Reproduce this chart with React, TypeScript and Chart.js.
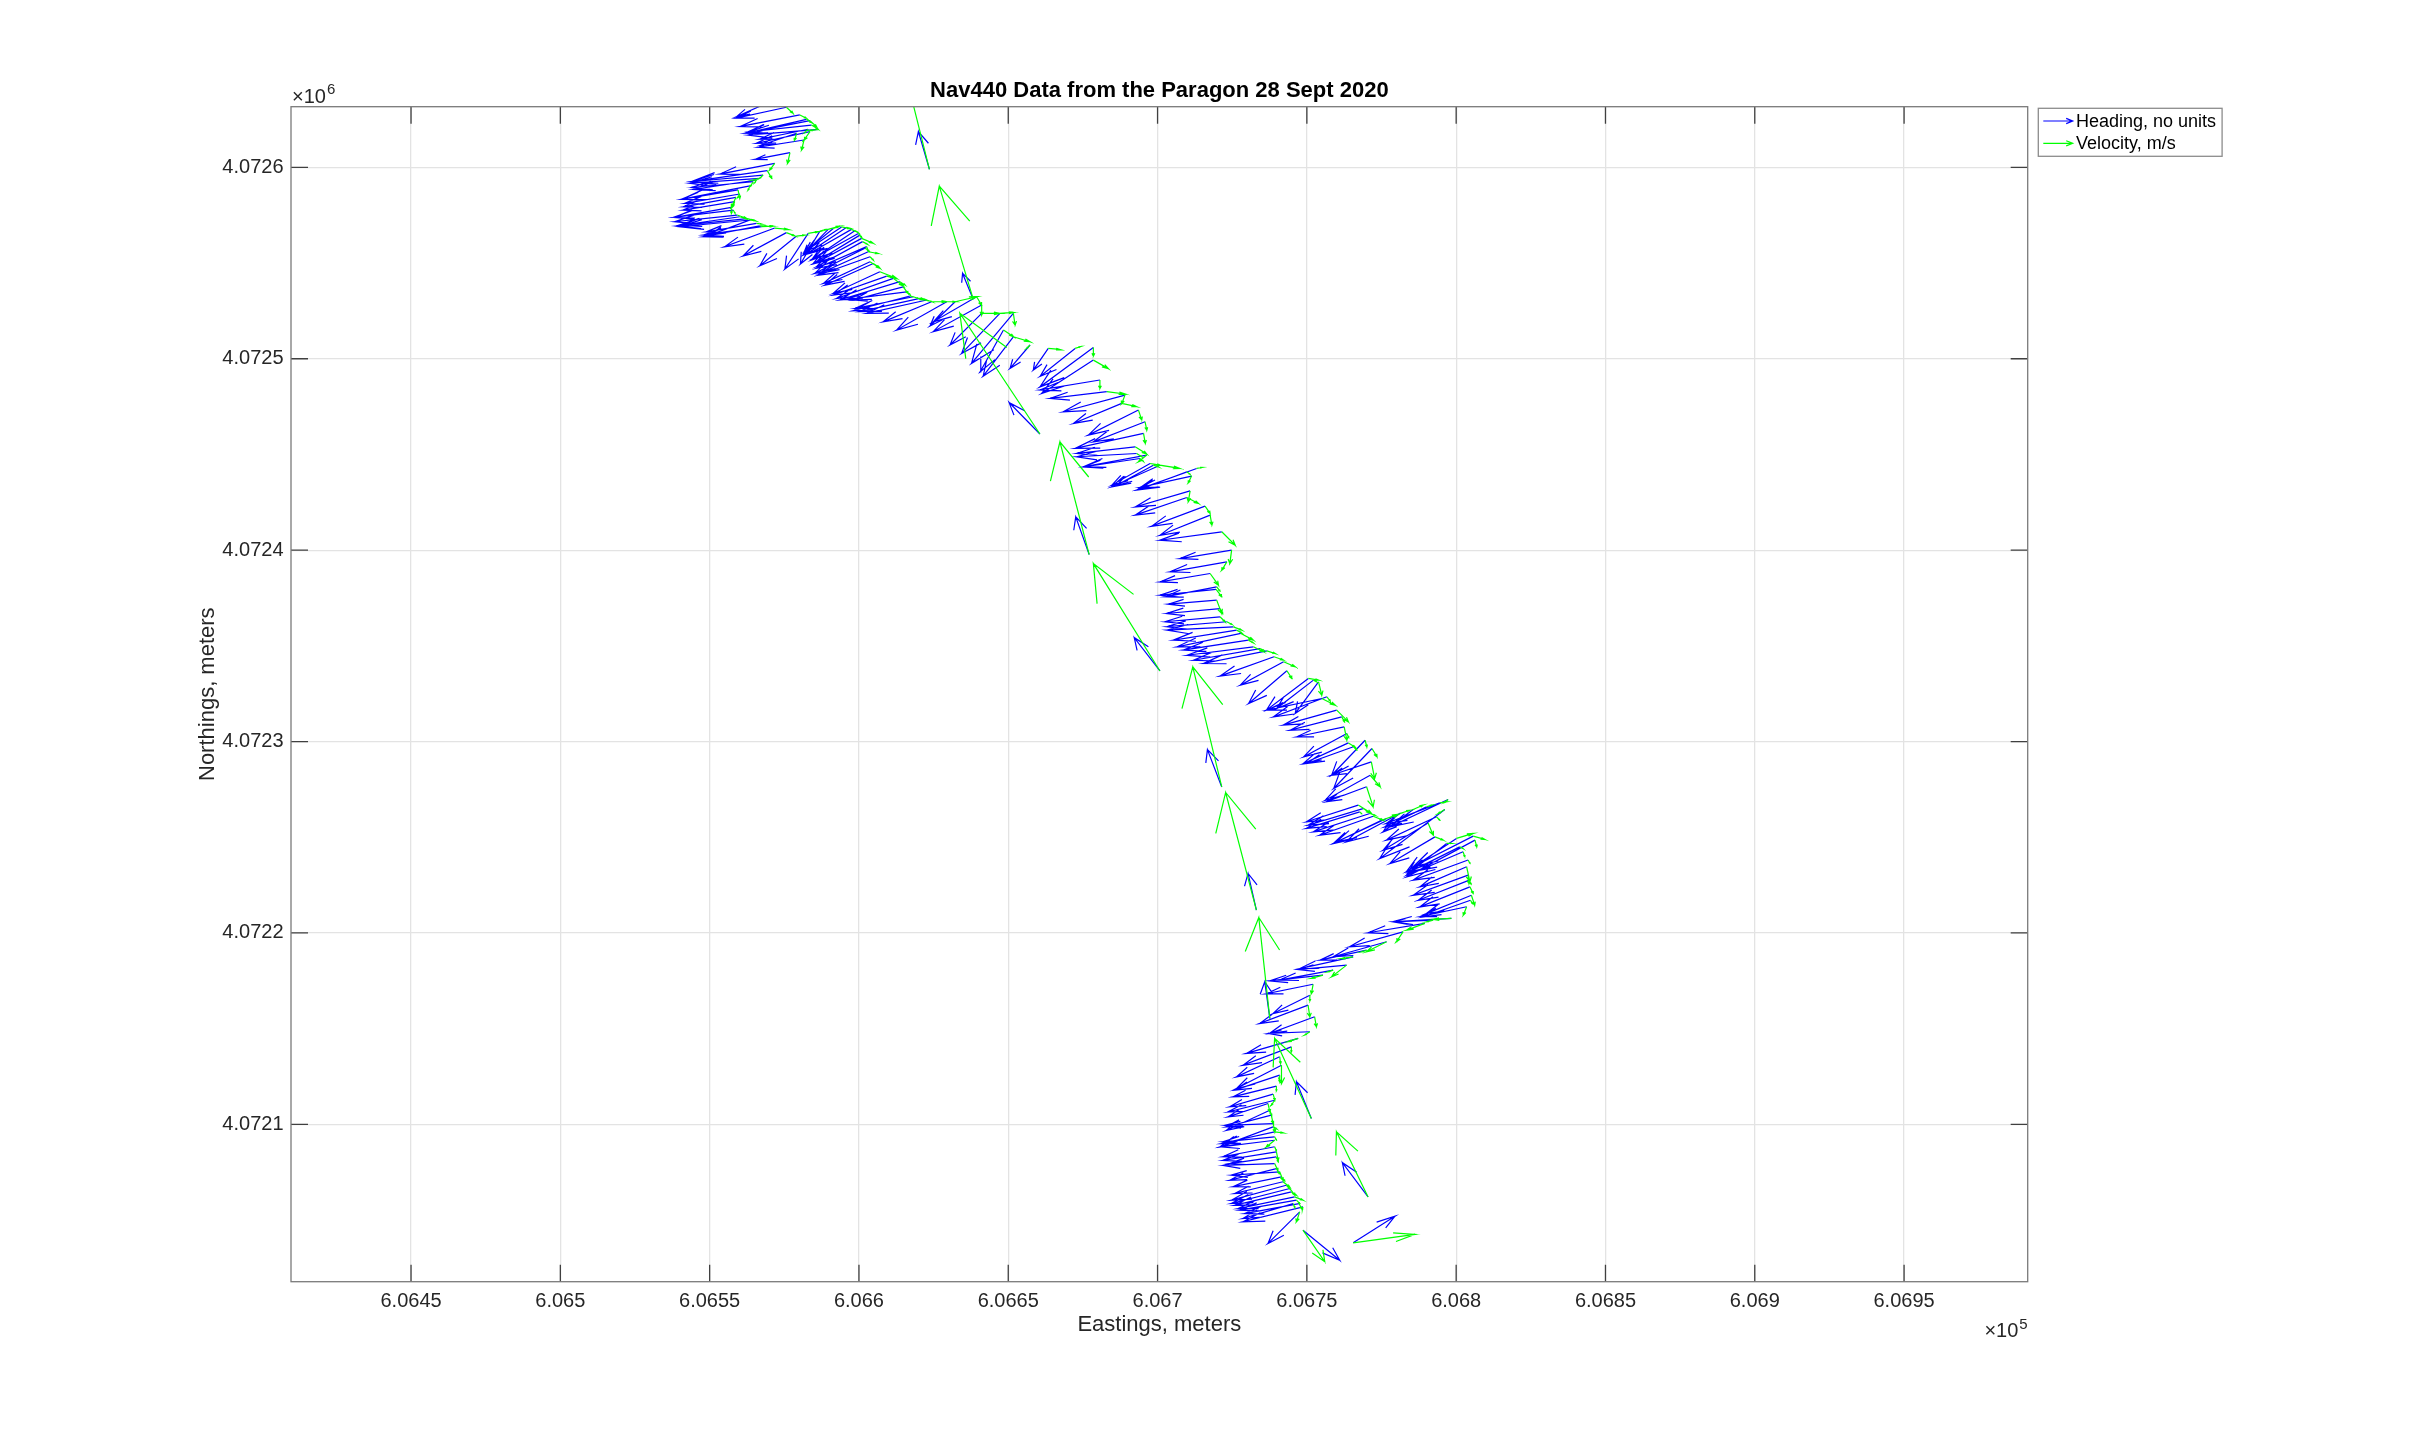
import React, { useEffect, useRef } from "react";
import { Chart, registerables } from "chart.js";

Chart.register(...registerables);

// ---------------- data (meters, UTM) ----------------
const titleText = "Nav440 Data from the Paragon 28 Sept 2020";
const xAxisLabel = "Eastings, meters";
const yAxisLabel = "Northings, meters";
const seriesLabels = ["Heading, no units", "Velocity, m/s"];

const xLimits = [606409.8, 606991.4];
const yLimits = [4072017.8, 4072631.7];
const xTickValues = [606450, 606500, 606550, 606600, 606650, 606700, 606750, 606800, 606850, 606900, 606950];
const xTickLabels = ["6.0645", "6.065", "6.0655", "6.066", "6.0665", "6.067", "6.0675", "6.068", "6.0685", "6.069", "6.0695"];
const yTickValues = [4072100, 4072200, 4072300, 4072400, 4072500, 4072600];
const yTickLabels = ["4.0721", "4.0722", "4.0723", "4.0724", "4.0725", "4.0726"];
const xExponent = "5";
const yExponent = "6";

// arrow tail positions
const eastings = [
  606570.2,
  606575.7, 606580.2, 606583.6, 606586.4, 606583.6, 606581.6, 606576.9, 606571.8, 606569.3, 606566.8,
  606564.6, 606559.5, 606558.8, 606557.3, 606559.2, 606562.6, 606567.4, 606571.8, 606575.7, 606579.1,
  606583.0, 606586.9, 606589.7, 606594.2, 606597.5, 606599.8, 606600.9, 606602.6, 606603.1, 606603.7,
  606607.0, 606611.5, 606614.8, 606617.1, 606622.7, 606624.3, 606629.4, 606632.2, 606639.4, 606641.1,
  606641.1, 606647.2, 606651.7, 606648.4, 606651.7, 606657.3, 606663.4, 606672.4, 606678.5, 606678.5,
  606680.7, 606683.0, 606689.1, 606688.0, 606693.6, 606695.8, 606695.3, 606692.5, 606696.4, 606697.5,
  606700.8, 606713.1, 606711.4, 606710.9, 606709.8, 606715.9, 606717.6, 606721.5, 606724.8, 606723.2,
  606717.6, 606719.6, 606719.8, 606720.9, 606725.4, 606727.9, 606732.1, 606736.6, 606739.0, 606742.2,
  606743.3, 606750.5, 606753.9, 606755.0, 606760.0, 606762.5, 606763.9, 606769.5, 606771.8, 606771.2,
  606771.6, 606770.0, 606767.2, 606767.7, 606772.2, 606775.0, 606781.1, 606785.6, 606794.5, 606797.3,
  606796.2, 606790.6, 606792.9, 606800.1, 606805.7, 606806.3, 606802.3, 606803.5, 606804.0, 606804.6,
  606805.1, 606803.5, 606798.4, 606789.5, 606782.2, 606776.7, 606765.5, 606763.3, 606755.4, 606752.1,
  606751.0, 606750.4, 606752.6,
  606751.0, 606747.1, 606744.8, 606741.5, 606739.8, 606738.7, 606737.0, 606738.1, 606738.7, 606739.2,
  606739.2, 606739.8, 606739.2, 606740.9, 606742.0, 606744.3, 606745.9, 606747.4, 606748.7, 606747.6,
  606623.6, 606638.3, 606660.6, 606677.1, 606700.8, 606721.5, 606733.1, 606737.6, 606751.5, 606770.5,
  606748.7, 606765.5,
  606582.4, 606584.1, 606583.0, 606579.1, 606567.9, 606565.7, 606563.5, 606560.1, 606558.4, 606557.9,
  606560.1, 606563.5, 606565.7, 606566.8, 606564.0, 606591.4, 606595.9, 606598.6, 606600.3, 606601.2,
  606602.0, 606603.7, 606604.8, 606609.3, 606613.7, 606616.0, 606618.2, 606620.4,
  606740.9, 606740.9, 606739.2, 606737.6, 606738.7, 606739.2, 606739.2, 606739.8, 606739.8, 606741.5,
  606743.1, 606744.8, 606746.5, 606745.4,
  606693.0, 606694.1, 606698.6, 606709.8, 606719.8, 606720.9, 606723.2, 606726.5, 606730.4, 606734.3,
  606752.2, 606756.7, 606761.7, 606763.4, 606765.6,
  606768.8, 606771.1, 606776.7, 606790.1, 606793.4, 606796.8, 606801.2, 606804.0, 606804.4, 606804.8,
  606792.3, 606770.0, 606758.8,
];
const northings = [
  4072634.3,
  4072631.4, 4072627.4, 4072624.4, 4072619.9, 4072618.7, 4072614.3, 4072607.7, 4072602.1, 4072598.3, 4072594.3,
  4072592.5, 4072588.2, 4072584.3, 4072579.1, 4072575.1, 4072573.2, 4072569.0, 4072568.3, 4072565.9, 4072564.1,
  4072565.5, 4072566.7, 4072567.6, 4072568.9, 4072567.6, 4072565.5, 4072562.9, 4072558.6, 4072555.9, 4072550.7,
  4072545.5, 4072542.0, 4072537.6, 4072532.8, 4072530.7, 4072529.8, 4072529.8, 4072529.8, 4072532.4, 4072528.1,
  4072523.7, 4072523.7, 4072523.7, 4072515.0, 4072511.5, 4072507.2, 4072505.4, 4072505.4, 4072505.9, 4072499.3,
  4072488.9, 4072482.8, 4072481.0, 4072476.7, 4072473.2, 4072467.1, 4072461.0, 4072454.0, 4072449.7, 4072445.3,
  4072444.4, 4072442.7, 4072438.7, 4072431.0, 4072427.5, 4072423.0, 4072418.3, 4072409.6, 4072400.0, 4072393.9,
  4072387.8, 4072379.5, 4072373.9, 4072365.2, 4072359.9, 4072356.5, 4072349.5, 4072347.4, 4072344.3, 4072341.7,
  4072337.0, 4072333.0, 4072331.2, 4072322.5, 4072316.4, 4072307.7, 4072299.3, 4072300.7, 4072296.4, 4072282.4,
  4072289.4, 4072276.4, 4072266.8, 4072263.3, 4072261.0, 4072258.9, 4072262.4, 4072264.5, 4072268.0, 4072269.7,
  4072264.5, 4072257.5, 4072250.2, 4072249.4, 4072250.6, 4072248.5, 4072242.4, 4072234.6, 4072230.2, 4072224.1,
  4072219.7, 4072213.7, 4072207.6, 4072205.0, 4072200.6, 4072195.4, 4072187.5, 4072183.2, 4072178.0, 4072173.2,
  4072167.5, 4072162.3, 4072156.2,
  4072148.4, 4072144.9, 4072140.5, 4072130.9, 4072120.0, 4072115.8, 4072110.9, 4072104.8, 4072100.4, 4072096.1,
  4072091.7, 4072085.6, 4072079.5, 4072075.2, 4072070.0, 4072066.5, 4072062.1, 4072058.6, 4072056.9, 4072054.3,
  4072599.0, 4072531.0, 4072460.7, 4072397.7, 4072336.9, 4072276.3, 4072211.9, 4072155.3, 4072103.1, 4072062.1,
  4072044.7, 4072038.1,
  4072625.1, 4072622.1, 4072619.9, 4072617.8, 4072596.0, 4072593.4, 4072590.3, 4072586.1, 4072582.1, 4072577.7,
  4072574.2, 4072572.5, 4072570.7, 4072569.4, 4072572.8, 4072568.1, 4072568.7, 4072566.9, 4072564.6, 4072561.2,
  4072557.7, 4072553.3, 4072549.8, 4072543.2, 4072540.3, 4072535.0, 4072532.4, 4072531.6,
  4072135.3, 4072125.7, 4072112.6, 4072107.4, 4072098.7, 4072093.5, 4072088.3, 4072083.0, 4072076.9, 4072072.6,
  4072068.2, 4072064.7, 4072060.4, 4072058.6,
  4072450.5, 4072447.9, 4072444.4, 4072441.0, 4072380.8, 4072369.5, 4072362.6, 4072358.2, 4072353.0, 4072348.6,
  4072332.1, 4072323.4, 4072312.9, 4072304.2, 4072297.3,
  4072265.0, 4072262.4, 4072259.8, 4072265.9, 4072260.7, 4072246.8, 4072245.0, 4072238.1, 4072227.6, 4072217.1,
  4072206.7, 4072191.0, 4072180.6,
];

// heading vectors (as drawn, meters)
const headingE = [
  -11.2,
  -16.8, -20.1, -21.8, -23.5, -17.9, -15.3, -11.7, -18.4, -25.4, -23.5,
  -20.7, -19.0, -17.6, -19.0, -20.9, -23.7, -19.5, -16.8, -14.5, -12.3,
  -7.8, -6.5, -8.4, -11.7, -14.0, -15.1, -15.6, -16.8, -16.2, -15.6,
  -15.6, -19.0, -16.8, -19.0, -20.1, -16.2, -16.8, -8.4, -14.5, -16.2,
  -10.6, -12.8, -14.0, -7.8, -10.1, -6.7, -5.0, -11.7, -17.9, -17.3,
  -20.1, -19.0, -20.7, -16.2, -16.8, -17.3, -22.9, -19.5, -21.2, -12.8,
  -16.2, -20.1, -17.3, -18.4, -17.3, -17.9, -16.8, -20.7, -17.3, -19.0,
  -16.8, -18.8, -16.2, -18.4, -22.3, -21.4, -22.3, -21.2, -18.1, -14.5,
  -12.8, -14.0, -7.8, -18.4, -17.9, -15.9, -15.1, -11.2, -12.8, -15.1,
  -13.4, -13.4, -17.3, -17.9, -17.9, -16.2, -17.9, -10.1, -17.9, -19.5,
  -21.8, -15.1, -15.1, -16.8, -20.1, -22.9, -14.5, -15.6, -18.4, -16.8,
  -15.1, -15.6, -19.5, -19.0, -17.9, -17.9, -17.9, -16.2, -17.9, -15.6,
  -12.3, -16.2, -15.1,
  -14.0, -17.3, -16.2, -15.1, -14.5, -14.5, -13.4, -15.1, -16.2, -17.9,
  -17.9, -17.9, -17.3, -16.2, -16.2, -19.5, -19.0, -18.2, -20.1, -10.6,
  -3.7, -3.6, -10.3, -4.5, -8.6, -4.8, -2.8, -1.7, -5.0, -8.6,
  12.3, 14.0,
  -20.3, -20.7, -16.2, -11.7, -24.0, -21.2, -22.9, -18.4, -17.3, -20.1,
  -19.5, -23.5, -16.8, -19.0, -14.0, -9.5, -13.4, -14.5, -15.6, -15.4,
  -16.8, -17.3, -16.2, -17.9, -20.1, -20.1, -19.5, -20.1,
  -14.5, -15.1, -15.6, -14.5, -17.9, -17.3, -17.3, -15.6, -15.6, -16.2,
  -18.4, -19.0, -19.0, -16.8,
  -20.1, -19.0, -12.3, -15.6, -17.3, -17.9, -20.1, -21.2, -21.8, -22.3,
  -12.3, -17.9, -17.3, -14.5, -15.6,
  -18.4, -19.0, -16.8, -14.0, -16.8, -13.4, -16.8, -18.4, -17.1, -15.9,
  -13.4, -15.6, -17.9,
];
const headingN = [
  -7.8,
  -5.7, -6.1, -6.6, -3.0, -6.1, -3.8, -3.5, -5.6, -5.7, -2.6,
  -3.0, -4.9, -4.9, -5.2, -3.5, -3.8, -4.4, -9.8, -12.2, -15.5,
  -18.6, -17.2, -13.4, -12.2, -12.5, -13.1, -13.1, -11.3, -11.3, -11.3,
  -11.3, -10.5, -7.0, -7.7, -7.0, -10.5, -14.8, -12.7, -13.1, -13.9,
  -16.5, -20.9, -26.1, -21.8, -20.6, -12.2, -11.3, -14.5, -20.6, -17.4,
  -5.2, -3.5, -8.7, -10.5, -13.1, -10.5, -7.8, -3.5, -6.1, -11.3,
  -11.3, -11.3, -5.9, -8.4, -9.2, -10.5, -10.5, -4.4, -4.4, -5.2,
  -4.4, -3.0, -2.1, -2.6, -1.7, -7.0, -4.4, -6.6, -10.1, -12.2,
  -17.1, -16.5, -16.5, -6.1, -7.8, -5.2, -10.8, -18.3, -20.9, -13.1,
  -7.0, -7.8, -8.7, -8.7, -9.9, -12.2, -14.8, -11.7, -10.8, -14.3,
  -25.6, -14.3, -13.9, -17.4, -16.0, -19.2, -9.6, -10.5, -10.5, -10.5,
  -9.6, -5.2, -1.7, -4.9, -7.8, -7.8, -6.1, -2.3, -3.0, -4.9,
  -9.6, -9.6, -8.7,
  -0.9, -7.8, -9.6, -12.2, -5.6, -6.6, -7.0, -6.1, -0.9, -6.1,
  -3.5, -4.4, -0.9, -1.7, -6.1, -7.8, -6.1, -5.2, -7.8, -16.5,
  19.7, 13.6, 16.4, 19.7, 17.4, 19.5, 19.2, 19.2, 19.2, 17.9,
  -15.7, 13.9,
  -7.3, -3.5, -5.2, -6.1, -3.5, -4.9, -7.0, -4.9, -4.4, -3.8,
  -4.4, -3.5, -4.4, -5.6, -8.2, -12.2, -13.9, -15.3, -14.8, -13.1,
  -13.1, -9.6, -11.3, -9.9, -9.6, -4.0, -6.1, -7.0,
  -10.5, -7.8, -6.1, -10.5, -10.5, -2.6, -5.2, -3.5, -6.1, -5.2,
  -7.8, -7.0, -5.2, -7.8,
  -1.7, -4.4, -10.5, -9.2, -5.2, -2.6, -2.6, -5.2, -5.2, -6.1,
  -14.8, -10.5, -7.0, -12.2, -8.7,
  -8.7, -9.6, -12.2, -10.5, -12.2, -16.5, -13.1, -10.5, -10.5, -8.7,
  -0.9, -5.2, -5.2,
];

// velocity vectors (as drawn, meters)
const velocityE = [
  1.1,
  2.2, 2.2, 2.2, -2.8, -2.0, -0.8, -0.8, -1.7, 1.5, -2.2,
  -1.1, 0.6, -1.5, 0, 3.1, 2.6, 3.9, 4.5, 2.8, 2.8,
  3.4, 2.2, 3.9, 2.8, 1.7, 1.1, 3.9, 0.6, 3.4, 3.4,
  5.6, 3.4, 1.7, 5.0, 1.7, 5.0, 2.8, 7.3, 1.7, 0,
  6.1, 4.5, 0.6, 3.4, 5.6, -1.1, 3.9, 1.7, 0, 5.0,
  0, 6.1, -1.1, 5.0, 1.1, 0.6, 0.6, 3.9, -2.8, 3.4,
  6.7, 1.7, -1.1, -0.6, 3.9, 1.7, 0.6, 4.5, -0.6, -1.7,
  2.8, 1.9, 1.7, 1.7, 2.8, 4.2, 3.4, 2.8, 3.1, 3.9,
  1.7, 3.4, 1.1, 4.5, 3.9, 0.9, 2.2, 0.6, 1.7, 3.4,
  1.1, 2.2, 4.5, 0.6, 3.4, 5.6, 3.4, 3.4, 2.2, -1.1,
  -2.2, 1.7, 2.8, 5.6, 3.9, 0.6, 0.6, 1.1, 0.3, 1.1,
  1.1, -1.1, -6.1, -6.1, -2.2, -6.7, -3.9, -5.0, -3.9, -0.6,
  0, 0.6, 0.6,
  -1.7, -3.4, 0, 0, 0, 0.6, 0.6, 0.6, 0.6, 2.8,
  -2.8, 0.6, 1.1, 1.1, 2.2, 1.7, 2.8, 0.8, -0.2, -1.1,
  -9.5, -11.4, -26.8, -9.8, -22.3, -9.7, -10.3, -3.7, -12.3, -10.6,
  7.3, 20.7,
  1.7, 2.2, -1.1, -0.6, -1.1, -0.6, -0.6, -0.6, -0.6, 0.6,
  1.7, 1.7, 1.7, 2.2, 1.1, 1.7, 1.1, 1.1, 0.6, 1.7,
  1.1, 1.1, 1.7, 2.2, 1.7, 1.1, 1.7, 1.7,
  0.3, 0, -1.1, 0.6, 1.1, 0.6, 0.6, 0.6, 0.9, 1.1,
  1.3, 1.7, 1.1, 0.6,
  1.7, 1.1, 1.7, 1.1, 1.1, 0.9, 1.7, 1.7, 1.7, 1.3,
  1.1, 1.1, 0.9, 0.6, 1.1,
  1.1, 1.7, 1.7, 1.7, 1.1, 1.7, 1.1, 0.6, 0.6, 0.6,
  -2.2, -1.7, -1.7,
];
const velocityN = [
  -1.7,
  -3.1, -1.7, -3.1, -0.7, -4.4, -5.2, -5.6, -3.5, -4.0, -0.9,
  -2.6, -4.4, -4.9, -3.1, -1.7, -1.0, 0.3, -0.7, -1.7, 0.5,
  0.9, 0.9, 1.7, -0.9, -1.2, -2.1, -2.6, -2.6, -0.9, -3.5,
  -3.5, -4.0, -3.5, -2.1, -0.9, 0, 0, 2.6, -4.4, -5.2,
  0, 0.5, -6.1, -3.5, -2.6, -1.7, -0.5, 0.9, -4.5, -4.4,
  -4.4, -1.2, -4.4, -1.7, -5.2, -4.4, -5.2, -3.8, -3.5, -0.9,
  -1.7, 0.5, -3.5, -5.7, -3.1, -3.8, -5.2, -7.0, -7.0, -4.4,
  -6.1, -3.8, -7.0, -2.6, -1.7, -3.5, -2.6, -1.4, -1.7, -2.6,
  -4.0, -0.9, -7.0, -3.5, -6.1, -7.0, -2.1, -3.5, -4.4, -6.1,
  -8.7, -10.5, -4.4, -0.9, -2.1, 3.1, 1.7, 2.3, 0.5, -1.4,
  -2.1, -6.4, -1.7, 2.6, -1.7, -3.5, -2.6, -7.8, -4.4, -3.5,
  -5.2, -4.4, -0.5, -3.5, -5.2, -5.2, -0.9, -6.1, -1.7, -4.9,
  -3.0, -6.1, -5.2,
  -1.7, -1.7, -2.6, -9.6, -2.4, -3.1, -4.4, -4.4, -4.4, -0.5,
  -3.5, -4.4, -3.5, -4.4, -2.6, -3.5, -1.7, -2.6, -1.4, -5.2,
  59.2, 59.2, 63.1, 58.9, 56.1, 62.7, 61.5, 52.8, 41.8, 34.0,
  -16.5, 4.4,
  -1.7, -2.1, -1.7, -3.5, -1.7, -1.4, -2.1, -1.7, -2.6, -1.7,
  -0.9, -0.5, -0.3, 0, -0.5, 0.9, -0.5, -0.9, -1.4, -1.4,
  -0.9, -1.7, -1.7, -0.9, -1.7, -1.4, -0.9, -0.5,
  -3.5, -3.5, -2.6, -2.6, -0.9, -1.7, -2.1, -2.6, -2.6, -2.1,
  -2.1, -1.7, -1.7, -2.1,
  -1.7, -1.4, -0.9, -1.4, -2.1, -2.6, -1.4, -1.4, -1.4, -0.9,
  -0.9, -2.1, -2.6, -2.1, -1.7,
  -0.9, -0.9, 0.9, 0.9, -1.7, 0, -0.9, -1.7, -2.1, -1.7,
  -0.9, -0.9, -0.9,
];

// ---------------- styling ----------------
const FONT = '"Liberation Sans", Arial, Helvetica, sans-serif';
const TEXT = "#262626";
const BLUE = "#0000ff";
const GREEN = "#00ff00";

// MATLAB-style quiver arrow geometry in data units
function quiverPoints(xs: number[], ys: number[], us: number[], vs: number[]) {
  const alpha = 0.33;
  const beta = 0.33;
  const pts: { x: number; y: number }[] = [];
  const n = Math.min(xs.length, ys.length, us.length, vs.length);
  for (let i = 0; i < n; i++) {
    const x = xs[i], y = ys[i], u = us[i], v = vs[i];
    const tx = x + u, ty = y + v;
    pts.push({ x, y });
    pts.push({ x: tx, y: ty });
    pts.push({ x: tx - alpha * (u + beta * v), y: ty - alpha * (v - beta * u) });
    pts.push({ x: tx, y: ty });
    pts.push({ x: tx - alpha * (u - beta * v), y: ty - alpha * (v + beta * u) });
    pts.push({ x: tx, y: NaN });
  }
  return pts;
}

const decorPlugin = {
  id: "matlabDecor",
  afterDraw(chart: any) {
    const { ctx, chartArea: a, scales } = chart;
    const xs = scales.x;
    const ys = scales.y;
    ctx.save();

    // inward tick marks on all four sides
    ctx.strokeStyle = "#404040";
    ctx.lineWidth = 1.3;
    ctx.beginPath();
    xTickValues.forEach((v) => {
      const px = xs.getPixelForValue(v);
      ctx.moveTo(px, a.bottom);
      ctx.lineTo(px, a.bottom - 17);
      ctx.moveTo(px, a.top);
      ctx.lineTo(px, a.top + 17);
    });
    yTickValues.forEach((v) => {
      const py = ys.getPixelForValue(v);
      ctx.moveTo(a.left, py);
      ctx.lineTo(a.left + 17, py);
      ctx.moveTo(a.right, py);
      ctx.lineTo(a.right - 17, py);
    });
    ctx.stroke();

    // axes box
    ctx.strokeStyle = "#7a7a7a";
    ctx.lineWidth = 1.3;
    ctx.strokeRect(a.left, a.top, a.right - a.left, a.bottom - a.top);

    // exponent labels
    ctx.fillStyle = TEXT;
    ctx.textAlign = "left";
    ctx.textBaseline = "alphabetic";
    ctx.font = `20px ${FONT}`;
    const base = "\u00d710";
    const bw = ctx.measureText(base).width;
    ctx.fillText(base, a.left + 1, a.top - 3.4);
    ctx.font = `15px ${FONT}`;
    ctx.fillText(yExponent, a.left + 1 + bw + 1, a.top - 12.7);

    const ew = ctx.measureText(xExponent).width;
    const sx = a.right - ew - bw - 1;
    ctx.font = `20px ${FONT}`;
    ctx.fillText(base, sx, a.bottom + 55.6);
    ctx.font = `15px ${FONT}`;
    ctx.fillText(xExponent, sx + bw + 1, a.bottom + 47.5);

    // legend
    const lx = a.right + 10.6;
    const ly = a.top + 1.6;
    ctx.font = `18px ${FONT}`;
    const tw = Math.max(...seriesLabels.map((s) => ctx.measureText(s).width));
    const lw = 37.7 + tw + 6;
    const lh = 48;
    ctx.fillStyle = "#ffffff";
    ctx.fillRect(lx, ly, lw, lh);
    ctx.strokeStyle = "#8c8c8c";
    ctx.lineWidth = 1.3;
    ctx.strokeRect(lx, ly, lw, lh);
    const colors = [BLUE, GREEN];
    const rows = [ly + 12.7, ly + 35];
    seriesLabels.forEach((label, i) => {
      const y = rows[i];
      const x0 = lx + 5;
      const x1 = lx + 34.4;
      ctx.strokeStyle = colors[i];
      ctx.lineWidth = 1.2;
      ctx.beginPath();
      ctx.moveTo(x0, y);
      ctx.lineTo(x1, y);
      ctx.moveTo(x1 - 6.5, y - 2.6);
      ctx.lineTo(x1, y);
      ctx.lineTo(x1 - 6.5, y + 2.6);
      ctx.stroke();
      ctx.fillStyle = "#000000";
      ctx.textBaseline = "middle";
      ctx.fillText(label, lx + 37.7, y + 1);
    });

    ctx.restore();
  },
};

export default function App() {
  const canvasRef = useRef<HTMLCanvasElement | null>(null);

  useEffect(() => {
    if (!canvasRef.current) return;
    const chart = new Chart(canvasRef.current, {
      type: "scatter",
      data: {
        datasets: [
          {
            label: seriesLabels[0],
            data: quiverPoints(eastings, northings, headingE, headingN),
            borderColor: BLUE,
            backgroundColor: BLUE,
            borderWidth: 1.2,
            showLine: true,
            spanGaps: false,
            pointRadius: 0,
            pointHitRadius: 0,
            tension: 0,
            order: 1,
          },
          {
            label: seriesLabels[1],
            data: quiverPoints(eastings, northings, velocityE, velocityN),
            borderColor: GREEN,
            backgroundColor: GREEN,
            borderWidth: 1.2,
            showLine: true,
            spanGaps: false,
            pointRadius: 0,
            pointHitRadius: 0,
            tension: 0,
            order: 0,
          },
        ],
      },
      options: {
        animation: false,
        responsive: true,
        maintainAspectRatio: false,
        events: [],
        layout: { padding: { left: 0, top: 0, right: 404.3, bottom: 0 } },
        plugins: {
          legend: { display: false },
          tooltip: { enabled: false },
          title: {
            display: true,
            text: titleText,
            fullSize: false,
            color: "#000000",
            font: { family: FONT, size: 22, weight: "bold", lineHeight: 1.2 },
            padding: { top: 77.4, bottom: 2.9 },
          },
        },
        scales: {
          x: {
            type: "linear",
            position: "bottom",
            min: xLimits[0],
            max: xLimits[1],
            afterBuildTicks: (axis: any) => {
              axis.ticks = xTickValues.map((value) => ({ value }));
            },
            afterFit: (axis: any) => {
              axis.height = 158.3;
            },
            ticks: {
              autoSkip: false,
              maxRotation: 0,
              minRotation: 0,
              padding: 7.8,
              color: TEXT,
              font: { family: FONT, size: 20 },
              callback: (_v: any, i: number) => xTickLabels[i],
            },
            grid: { color: "#e3e3e3", lineWidth: 1.3, drawTicks: false },
            border: { display: false },
            title: {
              display: true,
              text: xAxisLabel,
              color: TEXT,
              font: { family: FONT, size: 22, lineHeight: 1.2 },
              padding: { top: 0, bottom: 102.3 },
            },
          },
          y: {
            type: "linear",
            position: "left",
            min: yLimits[0],
            max: yLimits[1],
            afterBuildTicks: (axis: any) => {
              axis.ticks = yTickValues.map((value) => ({ value }));
            },
            afterFit: (axis: any) => {
              axis.width = 291;
            },
            ticks: {
              autoSkip: false,
              padding: 7.5,
              color: TEXT,
              font: { family: FONT, size: 20 },
              callback: (_v: any, i: number) => yTickLabels[i],
            },
            grid: { color: "#e3e3e3", lineWidth: 1.3, drawTicks: false },
            border: { display: false },
            title: {
              display: true,
              text: yAxisLabel,
              color: TEXT,
              font: { family: FONT, size: 22, lineHeight: 1.2 },
              padding: { top: 195, bottom: 0 },
            },
          },
        },
      },
      plugins: [decorPlugin],
    } as any);
    return () => chart.destroy();
  }, []);

  return (
    <div
      style={{
        position: "fixed",
        left: 0,
        top: 0,
        width: 2432,
        height: 1440,
        background: "#ffffff",
      }}
    >
      <canvas ref={canvasRef} />
    </div>
  );
}
